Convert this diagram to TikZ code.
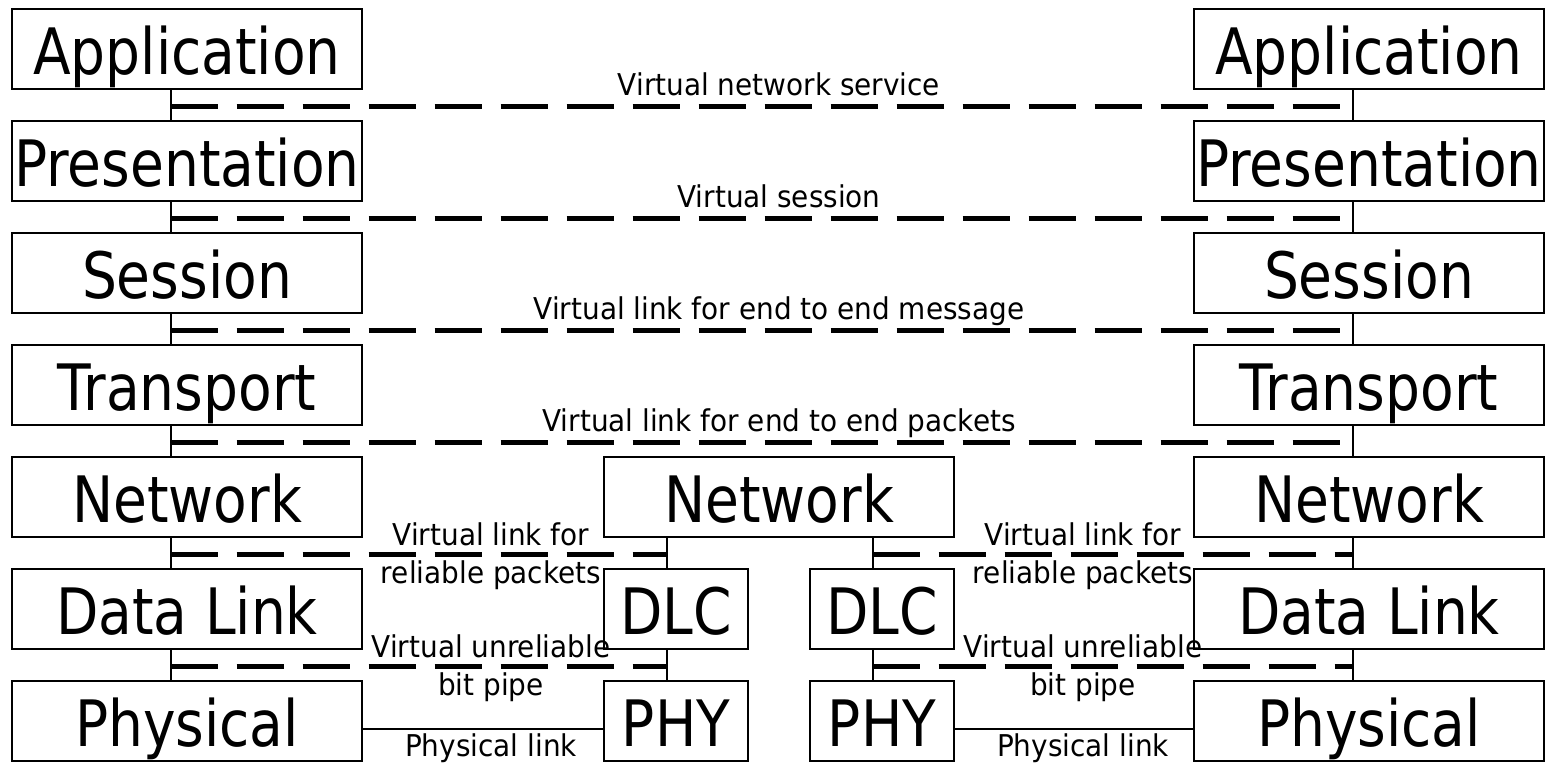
\documentclass[tikz,border=0pt]{standalone}
\usepackage{fontspec}
\setmainfont{DejaVu Sans}
\newfontfamily\layerfont{DejaVu Sans}[FakeStretch=0.86]
\newfontfamily\linkfont{DejaVu Sans}[FakeStretch=0.93]

\tikzset{
  layer/.style={draw, line width=1.9pt, inner xsep=0pt, inner ysep=0pt,
    minimum height=60pt, text height=48.75pt, text depth=11.25pt,
    font=\layerfont\fontsize{48pt}{56pt}\selectfont},
  wide/.style={layer, minimum width=262.5pt},
  narrow/.style={layer, minimum width=108pt},
  stack/.style={line width=1.5pt},
  peer/.style={line width=3.75pt, line cap=butt, dash pattern=on 35.25pt off 14.25pt},
  linklabel/.style={anchor=base, inner sep=0pt,
    font=\linkfont\fontsize{22.5pt}{27pt}\selectfont},
}

\begin{document}
\begin{tikzpicture}[x=0.75pt, y=-0.75pt]
  \fill[white] (0,0) rectangle (1547,764);
  \useasboundingbox (0,0) rectangle (1547,764);

  % end-system protocol stacks
  \foreach \t [count=\i] in {Application,Presentation,Session,Transport,Network,Data Link,Physical} {
    \node[wide] (L\i) at (187,{49+112*(\i-1)}) {\t};
    \node[wide] (R\i) at (1369,{49+112*(\i-1)}) {\t};
  }

  % intermediate node
  \node[wide]   (MN) at (779,497) {Network};
  \node[narrow] (D1) at (676,609) {DLC};
  \node[narrow] (D2) at (882,609) {DLC};
  \node[narrow] (P1) at (676,721) {PHY};
  \node[narrow] (P2) at (882,721) {PHY};

  % interfaces between adjacent layers
  \foreach \i/\j in {1/2,2/3,3/4,4/5,5/6,6/7} {
    \draw[stack] ([xshift=120pt]L\i.south west) -- ([xshift=120pt]L\j.north west);
    \draw[stack] ([xshift=120pt]R\i.south west) -- ([xshift=120pt]R\j.north west);
  }
  \draw[stack] ([xshift=48pt]MN.south west) -- ([xshift=48pt]D1.north west);
  \draw[stack] ([xshift=48pt]D1.south west) -- ([xshift=48pt]P1.north west);
  \draw[stack] ([xshift=202.5pt]MN.south west) -- ([xshift=48pt]D2.north west);
  \draw[stack] ([xshift=48pt]D2.south west) -- ([xshift=48pt]P2.north west);

  % peer-to-peer virtual links
  \foreach \i in {1,2,3,4} {
    \draw[peer] ([xshift=120pt,yshift=-12pt]L\i.south west) -- ([xshift=120pt,yshift=-12pt]R\i.south west);
  }
  \draw[peer] ([xshift=120pt,yshift=-12pt]L5.south west) -- ([xshift=48pt,yshift=-12pt]MN.south west);
  \draw[peer] ([xshift=202.5pt,yshift=-12pt]MN.south west) -- ([xshift=120pt,yshift=-12pt]R5.south west);
  \draw[peer] ([xshift=120pt,yshift=-12pt]L6.south west) -- ([xshift=48pt,yshift=-12pt]D1.south west);
  \draw[peer] ([xshift=48pt,yshift=-12pt]D2.south west) -- ([xshift=120pt,yshift=-12pt]R6.south west);

  % physical links
  \draw[stack] ([yshift=-6pt]L7.east) -- ([yshift=-6pt]P1.west);
  \draw[stack] ([yshift=-6pt]P2.east) -- ([yshift=-6pt]R7.west);

  % link labels
  \node[linklabel] (t1) at (779,95)  {Virtual network service};
  \node[linklabel] (t2) at (779,207) {Virtual session};
  \node[linklabel] (t3) at (779,319) {Virtual link for end to end message};
  \node[linklabel] (t4) at (779,431) {Virtual link for end to end packets};

  \foreach \x/\s in {491/a,1083/b} {
    \node[linklabel] (rp1\s) at (\x,545) {Virtual link for};
    \node[linklabel] (rp2\s) at (\x,583) {reliable packets};
    \node[linklabel] (bp1\s) at (\x,657) {Virtual unreliable};
    \node[linklabel] (bp2\s) at (\x,695) {bit pipe};
    \node[linklabel] (pl\s)  at (\x,756) {Physical link};
  }
\end{tikzpicture}
\end{document}
